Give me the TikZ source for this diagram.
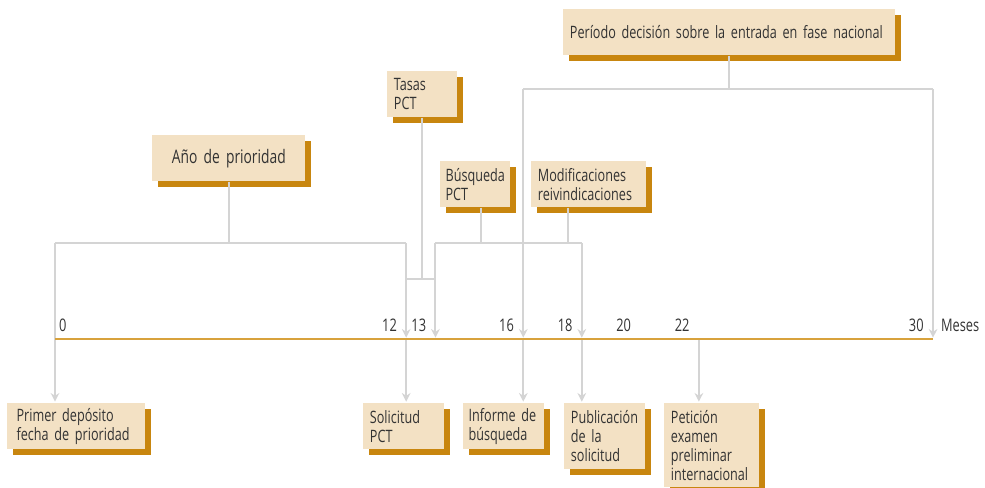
\documentclass[tikz,border=0pt]{standalone}
\usepackage{fontspec}
\setmainfont{Open Sans}[FakeStretch=0.74,WordSpace=0.7]
\usetikzlibrary{arrows.meta,shadows}

\definecolor{cardfill}{HTML}{F3E1C4}
\definecolor{cardshade}{HTML}{C8860F}
\definecolor{axisline}{HTML}{D8A23C}
\definecolor{linkgray}{HTML}{D4D4D4}
\definecolor{ink}{HTML}{333333}

\tikzset{
  card/.style={fill=cardfill, text=ink, anchor=north west, align=left,
    inner xsep=5pt, inner ysep=2pt, minimum height=34.5pt,
    font=\fontsize{12.8}{14.25}\selectfont,
    general shadow={fill=cardshade, shadow xshift=4.5pt, shadow yshift=-4.5pt}},
  link/.style={draw=linkgray, line width=1.5pt},
  tip/.style={link, -{Stealth[length=6.5pt,width=6.5pt]}, shorten >=1pt},
  mes/.style={text=ink, font=\fontsize{13}{14.25}\selectfont,
    anchor=base east, xshift=-3.5pt, yshift=6pt}
}

\begin{document}
\begin{tikzpicture}[x=0.75pt,y=-0.75pt]
  \useasboundingbox (0,0) rectangle (985,487);

  % month ticks on the time line
  \foreach \m in {0,12,13,16,18,20,22,30}
    \coordinate (m\m) at ({55+29.267*\m},339);

  % boxes above
  \node(anio)[card,text width=104.75pt,align=center,font=\fontsize{14}{15}\selectfont] at (152,135) {Año de prioridad};
  \node(tasas)[card,text width=42.5pt] at (387,71) {Tasas\\PCT};
  \node(busq)[card,text width=42.5pt,inner xsep=4pt,text width=44.5pt] at (440,161) {Búsqueda\\PCT};
  \node(modif)[card,text width=76.25pt] at (531,161) {Modificaciones\\reivindicaciones};
  \node(periodo)[card,text width=239pt] at (563,9) {Período decisión sobre la entrada en fase nacional};

  % boxes below
  \node(primer)[card,text width=95.5pt,inner xsep=4pt] at (7,403) {\hspace*{3pt}Primer depósito\\\hspace*{3pt}fecha de prioridad};
  \node(solic)[card,text width=50.75pt] at (363,403) {Solicitud\\PCT};
  \node(inform)[card,text width=52.75pt,inner xsep=4pt] at (463,403) {Informe de\\búsqueda};
  \node(publ)[card,text width=50.75pt,minimum height=49.5pt] at (564,403) {Publicación\\de la\\solicitud};
  \node(petic)[card,text width=61.25pt,minimum height=63pt] at (664,403) {Petición\\examen\\preliminar\\internacional};

  % bracket levels
  \coordinate (yA) at (0,243);
  \coordinate (yT) at (0,279);
  \coordinate (yP) at (0,89);
  \coordinate (cB) at (481,0);
  \coordinate (cM) at (568,0);

  % Año de prioridad: 0 to 12
  \draw[link] (anio.south) -- (anio.south |- yA);
  \draw[link] (m0 |- yA) -- (m12 |- yA);
  \draw[tip] (m0 |- yA) -- (m0 |- primer.north);
  \draw[tip] (m12 |- yA) -- (m12);
  \draw[tip] (m12) -- (m12 |- solic.north);

  % Tasas PCT: 12 to 13
  \draw[link] (tasas.south) -- (tasas.south |- yT);
  \draw[link] (m12 |- yT) -- (m13 |- yT);

  % Búsqueda and modificaciones: 13 to 18
  \draw[link] (cB |- busq.south) -- (cB |- yA);
  \draw[link] (cM |- modif.south) -- (cM |- yA);
  \draw[link] (m13 |- yA) -- (m18 |- yA);
  \draw[tip] (m13 |- yA) -- (m13);
  \draw[tip] (m18 |- yA) -- (m18);
  \draw[tip] (m18) -- (m18 |- publ.north);

  % fase nacional: 16 to 30
  \draw[link] (periodo.south) -- (periodo.south |- yP);
  \draw[link] (m16 |- yP) -- (m30 |- yP);
  \draw[tip] (m16 |- yP) -- (m16);
  \draw[tip] (m16) -- (m16 |- inform.north);
  \draw[tip] (m30 |- yP) -- (m30);

  % 22
  \draw[tip] (m22) -- (m22 |- petic.north);

  % time line
  \draw[draw=axisline, line width=1.5pt] (m0) -- (m30);

  \node(n0)[mes,anchor=base west,xshift=3pt] at (m0) {0};
  \foreach \m in {12,13,16,18,20,22,30}
    \node(n\m)[mes] at (m\m) {\m};
  \node(meses)[mes,anchor=base west,xshift=6pt] at (m30) {Meses};
\end{tikzpicture}
\end{document}
